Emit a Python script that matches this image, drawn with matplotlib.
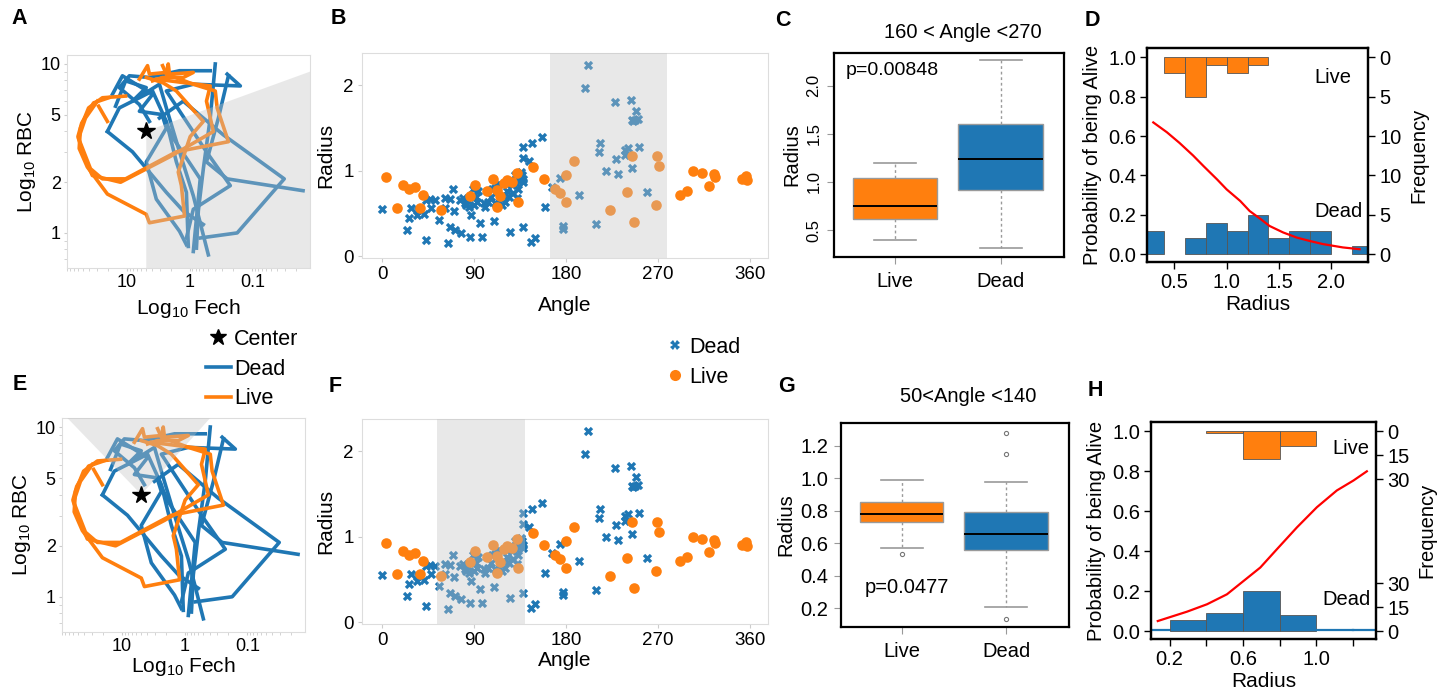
import numpy as np
import matplotlib
matplotlib.use('Agg')
import matplotlib.pyplot as plt
from matplotlib.lines import Line2D
from matplotlib.patches import Polygon
from matplotlib.ticker import FixedLocator, NullFormatter, LogLocator

plt.rcParams['font.family'] = ['Liberation Sans', 'DejaVu Sans']
plt.rcParams['mathtext.fontset'] = 'custom'
plt.rcParams['mathtext.rm'] = 'Liberation Sans'
plt.rcParams['mathtext.default'] = 'regular'

BLUE = '#1f77b4'
ORANGE = '#ff7f0e'

# ---------------- data ----------------
# trajectories, (log10 Fech, log10 RBC) read off panels A/E
dead_paths = [
    [(1.31, 0.60), (1.12, 0.74), (0.80, 0.80), (0.59, 0.84), (0.37, 0.66), (0.21, 0.42), (0.05, 0.24), (0.02, -0.08)],
    [(1.18, 0.75), (1.02, 0.90), (0.69, 0.86), (0.91, 0.78), (0.48, 0.88), (0.37, 0.74), (0.16, 0.48), (-0.06, 0.22), (-0.30, -0.13)],
    [(1.23, 0.82), (1.07, 0.93), (0.59, 0.82), (0.80, 0.72), (0.43, 0.70), (0.26, 0.56), (-0.17, 0.32), (-0.06, -0.11)],
    [(-0.60, 0.94), (-0.81, 0.87), (-0.06, 0.88), (0.37, 0.84), (-0.27, 0.48), (-0.65, 0.28), (-0.06, 0.14), (0.05, -0.03)],
    [(-0.41, 1.00), (-0.33, 0.68), (-0.22, 0.38), (-0.14, 0.13), (-0.11, -0.09)],
    [(0.48, 0.68), (0.10, 0.78), (-0.54, 0.58), (-1.51, 0.32), (-0.76, 0.00), (-0.17, -0.03)],
    [(1.31, 0.60), (0.91, 0.48), (0.37, 0.24), (0.10, 0.13), (-0.22, 0.05)],
    [(-0.62, 0.93), (-0.46, 0.68), (-0.27, 0.42), (-0.60, 0.32), (-1.81, 0.25)],
    [(-0.33, 0.96), (0.16, 0.96), (0.64, 0.92), (0.96, 0.93), (1.12, 0.86), (0.80, 0.76), (0.64, 0.66)],
    [(0.43, 0.69), (0.37, 0.62), (0.69, 0.42), (0.53, 0.20), (0.16, 0.01), (0.05, -0.07)],
]
live_paths = [
    [(1.02, 0.81), (1.39, 0.80), (1.61, 0.74), (1.74, 0.62), (1.76, 0.50), (1.63, 0.39), (1.47, 0.31), (1.31, 0.23),
     (0.69, 0.11), (0.64, 0.06), (0.08, 0.10), (0.13, 0.28), (0.18, 0.36), (-0.01, 0.57), (-0.22, 0.66), (0.21, 0.84),
     (0.43, 0.89), (0.69, 0.92)],
    [(1.29, 0.80), (1.53, 0.77), (1.72, 0.65), (1.78, 0.57), (1.69, 0.46), (1.55, 0.34), (1.10, 0.30), (0.32, 0.45),
     (-0.38, 0.60), (-0.27, 0.78), (-0.33, 0.87), (0.10, 0.89), (0.53, 0.91)],
    [(1.47, 0.78), (1.66, 0.68), (1.77, 0.56), (1.58, 0.38), (1.39, 0.32), (1.02, 0.32), (0.21, 0.48), (-0.62, 0.54),
     (-0.44, 0.74), (-0.41, 0.84), (-0.06, 0.88), (0.37, 0.94), (0.43, 0.99)],
    [(1.45, 0.75), (1.31, 0.66)],
    [(0.80, 0.91), (0.67, 0.99), (0.64, 0.94), (0.37, 0.95), (0.34, 1.00), (0.32, 0.94), (-0.06, 0.95), (0.10, 0.92),
     (0.43, 0.92), (0.59, 0.90)],
]
center_fech, center_rbc = 4.9, 4.0
wedge_A = (160, 270)
wedge_E = (46, 132)

# angle / radius scatter (B, F)
dead_angle = [0, 24, 26, 28, 34, 35, 41, 43, 47, 48, 43, 52, 55,
              61, 64, 61, 69, 66, 66, 71, 70, 77, 76, 79, 81, 82, 86, 87, 89, 93, 94, 96, 98, 101, 104, 109, 107,
              112, 115, 117, 120, 122, 125, 127, 130, 132, 133, 136, 138, 138, 138, 138,
              84, 85, 90, 92, 100, 106, 110, 113, 118, 124, 128, 134, 136, 137, 138, 110, 114, 125, 131,
              144, 147, 156, 146, 150, 159, 166, 174, 177, 177, 199, 202, 228, 244, 249, 245, 248, 251, 246,
              213, 212, 238, 241, 238, 252, 229, 219, 231, 245, 193, 259, 209]
dead_radius = [0.55, 0.31, 0.45, 0.56, 0.48, 0.54, 0.49, 0.66, 0.67, 0.56, 0.19, 0.66, 0.43,
               0.56, 0.15, 0.68, 0.79, 0.67, 0.34, 0.31, 0.53, 0.27, 0.66, 0.68, 0.62, 0.60, 0.23, 0.48, 0.79, 0.63,
               0.76, 0.39, 0.23, 0.58, 0.64, 0.41, 0.79,
               0.83, 0.68, 0.60, 0.64, 0.76, 0.29, 0.83, 0.95, 0.68, 0.79, 0.99, 0.87, 1.28, 1.15, 0.34,
               0.65, 0.58, 0.60, 0.69, 0.62, 0.70, 0.62, 0.60, 0.72, 0.70, 0.74, 0.88, 0.92, 0.95, 0.90, 0.80, 0.85,
               0.86, 0.86,
               1.11, 1.33, 1.40, 0.17, 0.21, 0.58, 0.81, 0.92, 0.36, 0.32, 1.97, 2.24, 1.81, 1.83, 1.70, 1.59, 1.60,
               1.61, 1.58, 1.33, 1.22, 1.24, 1.27, 1.19, 1.28, 1.14, 1.00, 0.96, 1.03, 0.72, 0.75, 0.38]
live_angle = [4, 14, 20, 26, 32, 40, 37, 57, 86, 91, 103, 108, 112, 115, 119, 122, 127, 132, 133, 112,
              148, 158, 169, 174, 180, 180, 188, 223, 240, 245, 247, 268, 269, 271, 292, 299, 304, 313, 320,
              325, 326, 353, 356, 357]
live_radius = [0.93, 0.56, 0.83, 0.79, 0.81, 0.72, 0.56, 0.54, 0.71, 0.83, 0.77, 0.90, 0.78, 0.71, 0.86, 0.89,
               0.87, 0.98, 0.63, 0.58, 1.05, 0.91, 0.79, 0.74, 0.64, 0.95, 1.11, 0.54, 0.75, 1.18, 0.40, 0.60,
               1.18, 1.06, 0.72, 0.76, 1.00, 0.98, 0.82, 0.96, 0.93, 0.90, 0.94, 0.89]
span_B = (164, 279)
span_F = (54, 140)

# box stats: whislo, q1, med, q3, whishi
c_live = [0.40, 0.62, 0.75, 1.04, 1.20]
c_dead = [0.31, 0.92, 1.24, 1.60, 2.27]
g_live = [0.57, 0.734, 0.78, 0.851, 0.99]
g_live_out = [0.533]
g_dead = [0.21, 0.559, 0.656, 0.79, 0.975]
g_dead_out = [1.28, 1.15, 0.135]

# logistic panels
d_bins = [0.2, 0.4, 0.6, 0.8, 1.0, 1.2, 1.4, 1.6, 1.8, 2.0, 2.2, 2.4]
d_dead = [3, 0, 2, 4, 3, 5, 2, 3, 3, 0, 1]
d_live = [0, 2, 5, 1, 2, 1, 0, 0, 0, 0, 0]
d_curve_x = [0.30, 0.43, 0.55, 0.68, 0.78, 0.91, 1.00, 1.13, 1.22, 1.32, 1.41, 1.54, 1.67, 1.80, 1.92, 2.11, 2.27]
d_curve_y = [0.669, 0.619, 0.565, 0.501, 0.447, 0.379, 0.329, 0.270, 0.219, 0.180, 0.143, 0.110, 0.084, 0.066,
             0.051, 0.034, 0.025]
h_bins = [0.0, 0.2, 0.4, 0.6, 0.8, 1.0, 1.2, 1.4]
h_dead = [0, 7, 11, 25, 10, 0, 0]
h_live = [0, 0, 1, 17, 9, 0, 0]
h_curve_x = [0.135, 0.295, 0.404, 0.513, 0.604, 0.695, 0.786, 0.895, 1.004, 1.113, 1.204, 1.277]
h_curve_y = [0.050, 0.097, 0.134, 0.184, 0.251, 0.318, 0.410, 0.519, 0.620, 0.704, 0.754, 0.800]

# ---------------- figure ----------------
W, H = 1448, 692
fig = plt.figure(figsize=(W / 100, H / 100), dpi=100)


def add_ax(l, t, r, b):
    return fig.add_axes([l / W, 1 - b / H, (r - l) / W, (b - t) / H])


def traj_panel(ax, wedge, box_w, box_h):
    for p in dead_paths:
        a = np.array(p)
        ax.plot(10 ** a[:, 0], 10 ** a[:, 1], color=BLUE, lw=2.6, zorder=2)
    for p in live_paths:
        a = np.array(p)
        ax.plot(10 ** a[:, 0], 10 ** a[:, 1], color=ORANGE, lw=2.6, zorder=2)
    ax.set_xscale('log')
    ax.set_yscale('log')
    ax.set_xlim(90, 0.012)
    ax.set_ylim(0.62, 11.3)
    ax.plot([center_fech], [center_rbc], marker='*', ms=13, color='k', ls='', zorder=5)
    # shaded wedge around the center (angles measured in screen space)
    cx, cy = ax.transAxes.inverted().transform(ax.transData.transform((center_fech, center_rbc)))
    phi = np.radians(np.linspace(180 - wedge[1], 180 - wedge[0], 80))
    R = 3000
    xs = np.r_[cx, cx + R * np.cos(phi) / box_w]
    ys = np.r_[cy, cy + R * np.sin(phi) / box_h]
    ax.add_patch(Polygon(np.c_[xs, ys], closed=True, transform=ax.transAxes,
                         fc='#c4c4c4', alpha=0.38, ec='none', zorder=3))
    ax.xaxis.set_major_locator(FixedLocator([10, 1, 0.1]))
    ax.set_xticklabels(['10', '1', '0.1'])
    ax.yaxis.set_major_locator(FixedLocator([1, 2, 5, 10]))
    ax.set_yticklabels(['1', '2', '5', '10'])
    ax.xaxis.set_minor_locator(LogLocator(subs=range(2, 10)))
    ax.yaxis.set_minor_locator(LogLocator(subs=range(2, 10)))
    ax.xaxis.set_minor_formatter(NullFormatter())
    ax.yaxis.set_minor_formatter(NullFormatter())
    ax.tick_params(which='both', colors='#cccccc', labelcolor='k', labelsize=13, length=2.5, pad=2)
    for s in ax.spines.values():
        s.set_color('#dddddd')
    ax.set_ylabel('Log$_{10}$ RBC', fontsize=15, labelpad=2)


def scatter_panel(ax, span):
    ax.scatter(dead_angle, dead_radius, marker='X', s=45, color=BLUE, linewidths=0, zorder=2)
    ax.scatter(live_angle, live_radius, marker='o', s=58, color=ORANGE, linewidths=0, zorder=2)
    ax.axvspan(span[0], span[1], color='#c4c4c4', alpha=0.38, lw=0, zorder=3)
    ax.set_xlim(-20, 378)
    ax.set_ylim(-0.02, 2.38)
    ax.set_xticks([0, 90, 180, 270, 360])
    ax.set_yticks([0, 1, 2])
    ax.tick_params(colors='#cccccc', labelcolor='k', labelsize=13.5, length=3, pad=3)
    for s in ax.spines.values():
        s.set_color('#dddddd')
    ax.set_ylabel('Radius', fontsize=15, labelpad=6)


def box_panel(ax, live, dead, live_out, dead_out):
    stats = []
    for v, out, lab in [(live, live_out, 'Live'), (dead, dead_out, 'Dead')]:
        stats.append(dict(whislo=v[0], q1=v[1], med=v[2], q3=v[3], whishi=v[4], fliers=out, label=lab))
    bp = ax.bxp(stats, positions=[1, 2], widths=0.8, patch_artist=True, capwidths=0.4,
                boxprops=dict(edgecolor='#9a9a9a', lw=1),
                medianprops=dict(color='k', lw=1.4),
                whiskerprops=dict(color='#9a9a9a', ls=(0, (2, 2)), lw=1),
                capprops=dict(color='#9a9a9a', lw=1.2),
                flierprops=dict(marker='o', ms=3, mfc='none', mec='#777777', mew=0.8))
    for patch, c in zip(bp['boxes'], [ORANGE, BLUE]):
        patch.set_facecolor(c)
    ax.set_xlim(0.42, 2.6)
    for s in ax.spines.values():
        s.set_color('k')
        s.set_linewidth(1.6)
    ax.tick_params(axis='x', colors='#999999', labelcolor='k', labelsize=14.5, length=5, pad=6)
    ax.tick_params(axis='y', colors='#999999', labelcolor='k', length=5, pad=4)
    ax.set_ylabel('Radius', fontsize=14.5, labelpad=4)


def logi_panel(ax, bins, dead, live, per_count, cx, cy, freq, xlim, xticks, xlabels, zero_line):
    bins = np.array(bins)
    left = bins[:-1]
    width = np.diff(bins)
    for l, w, c in zip(left, width, dead):
        if c > 0:
            ax.bar(l, c * per_count, w, align='edge', color=BLUE, edgecolor='#555555', lw=0.6, zorder=2)
        elif zero_line:
            ax.plot([l, l + w], [0.004, 0.004], color=BLUE, lw=1.6, zorder=2)
    for l, w, c in zip(left, width, live):
        if c > 0:
            ax.bar(l, -c * per_count, w, bottom=1, align='edge', color=ORANGE, edgecolor='#555555', lw=0.6,
                   zorder=2)
    ax.plot(cx, cy, color='red', lw=1.6, zorder=3)
    ax.set_xlim(*xlim)
    ax.set_ylim(-0.04, 1.047)
    ax.set_xticks(xticks)
    ax.set_xticklabels(xlabels)
    ax.set_yticks([0, 0.2, 0.4, 0.6, 0.8, 1.0])
    ax.set_yticklabels(['0.0', '0.2', '0.4', '0.6', '0.8', '1.0'])
    ax.set_xlabel('Radius', fontsize=15, labelpad=2)
    ax.set_ylabel('Probability of being Alive', fontsize=14.5, labelpad=4)
    ax2 = ax.twinx()
    ax2.set_ylim(ax.get_ylim())
    pos = [1 - f * per_count for f in freq] + [f * per_count for f in freq[::-1]]
    labs = [str(f) for f in freq] + [str(f) for f in freq[::-1]]
    ax2.set_yticks(pos)
    ax2.set_yticklabels(labs)
    ax2.set_ylabel('Frequency', fontsize=14.5, labelpad=6)
    for a in (ax, ax2):
        for s in a.spines.values():
            s.set_color('k')
            s.set_linewidth(1.6)
        a.tick_params(labelsize=14.5, length=5, width=1, pad=3)


# A
axA = add_ax(67, 55, 310, 268)
traj_panel(axA, wedge_A, 243, 213)
axA.set_xlabel('Log$_{10}$ Fech', fontsize=15, labelpad=4)
# E
axE = add_ax(62, 418, 305, 632)
traj_panel(axE, wedge_E, 243, 214)
axE.set_xlabel('Log$_{10}$ Fech', fontsize=15, labelpad=0)

# B, F
axB = add_ax(362, 53, 768, 258)
scatter_panel(axB, span_B)
axB.set_xlabel('Angle', fontsize=15, labelpad=9)
axF = add_ax(362, 419, 768, 624)
scatter_panel(axF, span_F)
axF.set_xlabel('Angle', fontsize=15, labelpad=1)

# C
axC = add_ax(834, 53, 1064, 257)
box_panel(axC, c_live, c_dead, [], [])
axC.set_ylim(0.22, 2.34)
axC.set_yticks([0.5, 1.0, 1.5, 2.0])
axC.set_yticklabels(['0.5', '1.0', '1.5', '2.0'], rotation=90, va='center', fontsize=12)
axC.text(0.05, 0.915, 'p=0.00848', transform=axC.transAxes, fontsize=14, va='center')
fig.text(963 / W, 1 - 32 / H, '160 < Angle <270', fontsize=14.5, ha='center', va='center')

# G
axG = add_ax(841, 423, 1069, 627)
box_panel(axG, g_live, g_dead, g_live_out, g_dead_out)
axG.set_ylim(0.085, 1.34)
axG.set_yticks([0.2, 0.4, 0.6, 0.8, 1.0, 1.2])
axG.set_yticklabels(['0.2', '0.4', '0.6', '0.8', '1.0', '1.2'], fontsize=14.5)
axG.text(0.29, 0.196, 'p=0.0477', transform=axG.transAxes, fontsize=14.5, ha='center', va='center')
fig.text(968 / W, 1 - 396 / H, '50<Angle <140', fontsize=14.5, ha='center', va='center')

# D
axD = add_ax(1147, 48, 1368, 262)
logi_panel(axD, d_bins, d_dead, d_live, 0.04, d_curve_x, d_curve_y, [0, 5, 10], (0.24, 2.35),
           [0.5, 1.0, 1.5, 2.0], ['0.5', '1.0', '1.5', '2.0'], False)
axD.text(0.923, 0.864, 'Live', transform=axD.transAxes, fontsize=14.5, ha='right', va='center')
axD.text(0.976, 0.234, 'Dead', transform=axD.transAxes, fontsize=14.5, ha='right', va='center')

# H
axH = add_ax(1151, 422, 1376, 639)
logi_panel(axH, h_bins, h_dead, h_live, 0.008, h_curve_x, h_curve_y, [0, 15, 30], (0.098, 1.327),
           [0.2, 0.4, 0.6, 0.8, 1.0, 1.2], ['0.2', '', '0.6', '', '1.0', ''], True)
axH.text(0.969, 0.876, 'Live', transform=axH.transAxes, fontsize=14.5, ha='right', va='center')
axH.text(0.976, 0.184, 'Dead', transform=axH.transAxes, fontsize=14.5, ha='right', va='center')

# legends
h1 = [Line2D([], [], marker='*', ls='', color='k', ms=12),
      Line2D([], [], color=BLUE, lw=2.6),
      Line2D([], [], color=ORANGE, lw=2.6)]
fig.legend(h1, ['Center', 'Dead', 'Live'], loc='upper left', bbox_to_anchor=(206 / W, 1 - 329 / H),
           frameon=False, fontsize=15.5, handlelength=1.15, handletextpad=0.15, labelspacing=0.4,
           borderpad=0, borderaxespad=0)
h2 = [Line2D([], [], marker='X', ls='', color=BLUE, ms=6.5, mew=0),
      Line2D([], [], marker='o', ls='', color=ORANGE, ms=8, mew=0)]
fig.legend(h2, ['Dead', 'Live'], loc='upper left', bbox_to_anchor=(666 / W, 1 - 337 / H),
           frameon=False, fontsize=15.5, handlelength=0.8, handletextpad=0.3, labelspacing=0.4,
           borderpad=0, borderaxespad=0)

# panel letters
for lab, x, y in [('A', 19, 18), ('B', 338, 18), ('C', 783, 21), ('D', 1092, 21),
                  ('E', 20, 385), ('F', 335, 387), ('G', 787, 386), ('H', 1095, 390)]:
    fig.text(x / W, 1 - y / H, lab, fontsize=15.5, fontweight='bold', ha='center', va='center')

fig.savefig('out.png', dpi=100)
